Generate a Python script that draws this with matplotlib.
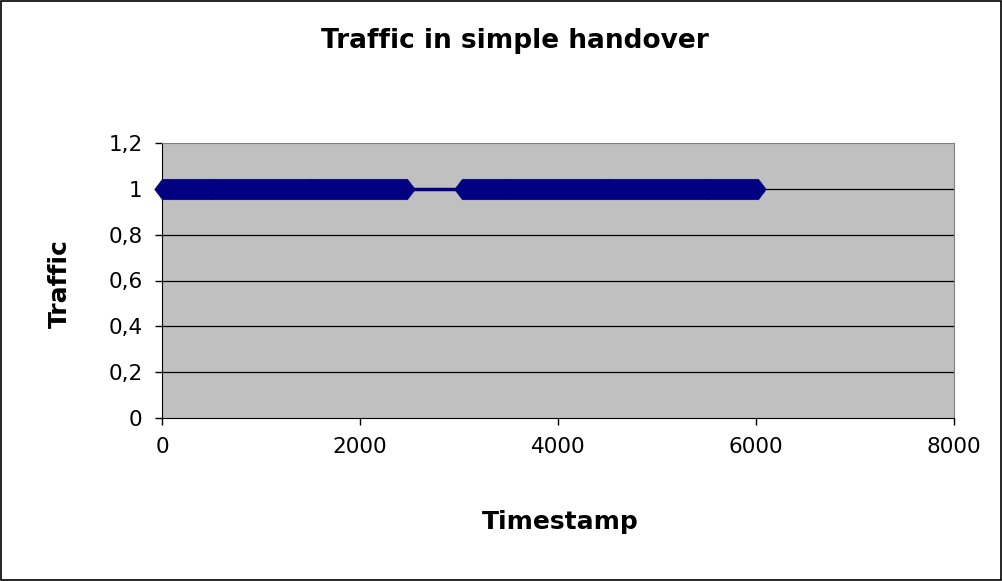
import matplotlib.pyplot as plt
import numpy as np
from matplotlib.patches import Rectangle

plt.rcParams['font.family'] = ['DejaVu Sans']

# traffic is 1 while the node is attached, sampled every sample_step ms
segment_starts = [0, 3030]
segment_ends = [2470, 6020]
sample_step = 10
traffic_level = 1

x_ticks = [0, 2000, 4000, 6000, 8000]
y_ticks = [0, 0.2, 0.4, 0.6, 0.8, 1, 1.2]
y_tick_labels = ['0', '0,2', '0,4', '0,6', '0,8', '1', '1,2']

navy = '#000080'
diamond = [(-0.76, 0), (0, 1), (0.76, 0), (0, -1), (-0.76, 0)]

fig = plt.figure(figsize=(10.03, 5.81), dpi=100)
fig.patches.append(Rectangle((0.0005, 0.001), 0.998, 0.997, transform=fig.transFigure,
                             fill=False, edgecolor='black', linewidth=1.2))

ax = fig.add_axes([162 / 1003, 1 - 418 / 581, (954 - 162) / 1003, (418 - 143) / 581])
ax.set_facecolor('#C0C0C0')
for s in ax.spines.values():
    s.set_color('#808080')
ax.spines['left'].set_color('black')
ax.spines['bottom'].set_color('black')

for yv in y_ticks[1:-1]:
    ax.axhline(yv, color='black', linewidth=0.9, zorder=1)

# line connects all samples, markers on every sample
xs, ys = [], []
for a, b in zip(segment_starts, segment_ends):
    seg = np.arange(a, b + sample_step, sample_step)
    xs.extend(seg)
    ys.extend([traffic_level] * len(seg))
ax.plot(xs, ys, color=navy, linewidth=2.5, marker=diamond, markersize=15,
        markeredgewidth=0.3, markeredgecolor=navy, markerfacecolor=navy,
        zorder=3, clip_on=False)

ax.set_xlim(0, 8000)
ax.set_ylim(0, 1.2)
ax.set_xticks(x_ticks)
ax.set_xticklabels([str(v) for v in x_ticks])
ax.set_yticks(y_ticks)
ax.set_yticklabels(y_tick_labels)
ax.tick_params(direction='out', length=5, width=1, labelsize=15.5, pad=9)

fig.text(515 / 1003, 1 - 41 / 581, 'Traffic in simple handover', ha='center', va='center',
         fontsize=19, fontweight='bold')
fig.text(60 / 1003, 1 - 284 / 581, 'Traffic', ha='center', va='center', rotation=90,
         fontsize=18, fontweight='bold')
fig.text(560 / 1003, 1 - 522 / 581, 'Timestamp', ha='center', va='center',
         fontsize=18, fontweight='bold')

fig.savefig('out.png', dpi=100)
